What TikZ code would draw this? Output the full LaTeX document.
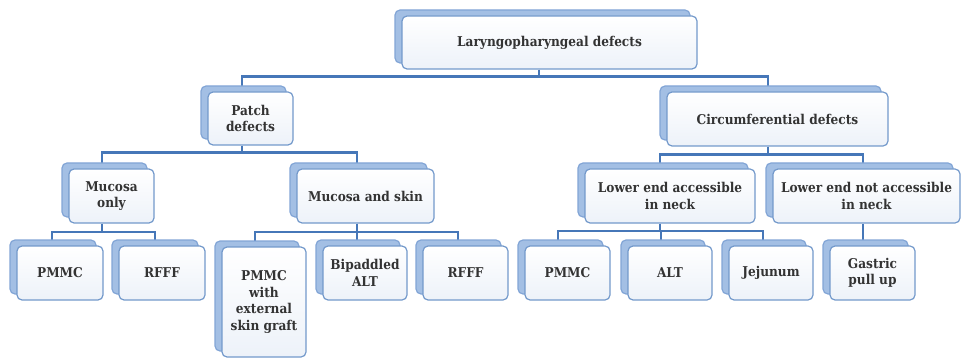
\documentclass[tikz,border=0pt]{standalone}
\usepackage{fontspec}
\setmainfont{DejaVu Serif Condensed}
\usetikzlibrary{backgrounds}
\definecolor{linec}{HTML}{4677B8}
\definecolor{boxline}{HTML}{7399CB}
\definecolor{shad}{HTML}{A3BFE4}
\definecolor{shadd}{HTML}{82A5D6}
\definecolor{txt}{HTML}{333333}
\definecolor{boxbot}{HTML}{EDF2F9}
\tikzset{
  box/.style={rounded corners=5pt, draw=boxline, line width=1.2pt,
    top color=white, bottom color=boxbot, align=center, text=txt,
    font=\fontsize{13.5}{16.5}\selectfont\bfseries, inner sep=2pt,
    preaction={draw=shadd, fill=shad, line width=1.2pt,
      transform canvas={shift={(-7pt,6pt)}}}},
  conn/.style={draw=linec, line width=2.2pt}
}
\begin{document}
\begin{tikzpicture}[x=1pt,y=-1pt]
\useasboundingbox (0,0) rectangle (963,358);
% level 0
\node[box, minimum width=295pt, minimum height=53pt] (top) at (549.5,42.5) {Laryngopharyngeal defects};
% level 1
\node[box, minimum width=85pt, minimum height=53pt] (patch) at (250.5,118.5) {Patch\\defects};
\node[box, minimum width=221pt, minimum height=54pt] (circ) at (777.5,119) {Circumferential defects};
% level 2
\node[box, minimum width=85pt, minimum height=54pt] (mo) at (111.5,196) {Mucosa\\only};
\node[box, minimum width=137pt, minimum height=54pt] (ms) at (365.5,196) {Mucosa and skin};
\node[box, minimum width=170pt, minimum height=54pt] (la) at (670,196) {Lower end accessible\\in neck};
\node[box, minimum width=187pt, minimum height=54pt] (ln) at (866.5,196) {Lower end not accessible\\in neck};
% level 3
\node[box, minimum width=86pt, minimum height=54pt] (p1) at (60,273) {PMMC};
\node[box, minimum width=86pt, minimum height=54pt] (r1) at (162,273) {RFFF};
\node[box, minimum width=84pt, minimum height=110pt] (pe) at (264,302) {PMMC\\with\\external\\skin graft};
\node[box, minimum width=84pt, minimum height=54pt] (ba) at (365,273) {Bipaddled\\ALT};
\node[box, minimum width=85pt, minimum height=54pt] (r2) at (465.5,273) {RFFF};
\node[box, minimum width=85pt, minimum height=54pt] (p2) at (567.5,273) {PMMC};
\node[box, minimum width=84pt, minimum height=54pt] (alt) at (670,273) {ALT};
\node[box, minimum width=84pt, minimum height=54pt] (jej) at (771,273) {Jejunum};
\node[box, minimum width=85pt, minimum height=54pt] (gas) at (872.5,273) {Gastric\\pull up};
% connectors
\begin{scope}[on background layer]
\draw[conn] ([xshift=-10.5pt]top.south) -- ++(0,7) -| ([xshift=-8.5pt]patch.north);
\draw[conn] ([xshift=-10.5pt]top.south) -- ++(0,7) -| ([xshift=-9.5pt]circ.north);
\draw[conn] ([xshift=-8.5pt]patch.south) -- ++(0,7) -| ([xshift=-9.5pt]mo.north);
\draw[conn] ([xshift=-8.5pt]patch.south) -- ++(0,7) -| ([xshift=-8.5pt]ms.north);
\draw[conn] ([xshift=-9.5pt]circ.south) -- ++(0,8) -| ([xshift=-10pt]la.north);
\draw[conn] ([xshift=-9.5pt]circ.south) -- ++(0,8) -| ([xshift=-3.5pt]ln.north);
\draw[conn] ([xshift=-9.5pt]mo.south) -- ++(0,8) -| ([xshift=-8pt]p1.north);
\draw[conn] ([xshift=-9.5pt]mo.south) -- ++(0,8) -| ([xshift=-7pt]r1.north);
\draw[conn] ([xshift=-8.5pt]ms.south) -- ++(0,8) -| ([xshift=-9pt]pe.north);
\draw[conn] ([xshift=-8.5pt]ms.south) -- ++(0,8) -| ([xshift=-8pt]ba.north);
\draw[conn] ([xshift=-8.5pt]ms.south) -- ++(0,8) -| ([xshift=-7.5pt]r2.north);
\draw[conn] ([xshift=-10pt]la.south) -- ++(0,7) -| ([xshift=-9.5pt]p2.north);
\draw[conn] ([xshift=-10pt]la.south) -- ++(0,7) -| ([xshift=-9pt]alt.north);
\draw[conn] ([xshift=-10pt]la.south) -- ++(0,7) -| ([xshift=-8pt]jej.north);
\draw[conn] ([xshift=-3.5pt]ln.south) -- ([xshift=-9.5pt]gas.north);
\end{scope}
\end{tikzpicture}
\end{document}
